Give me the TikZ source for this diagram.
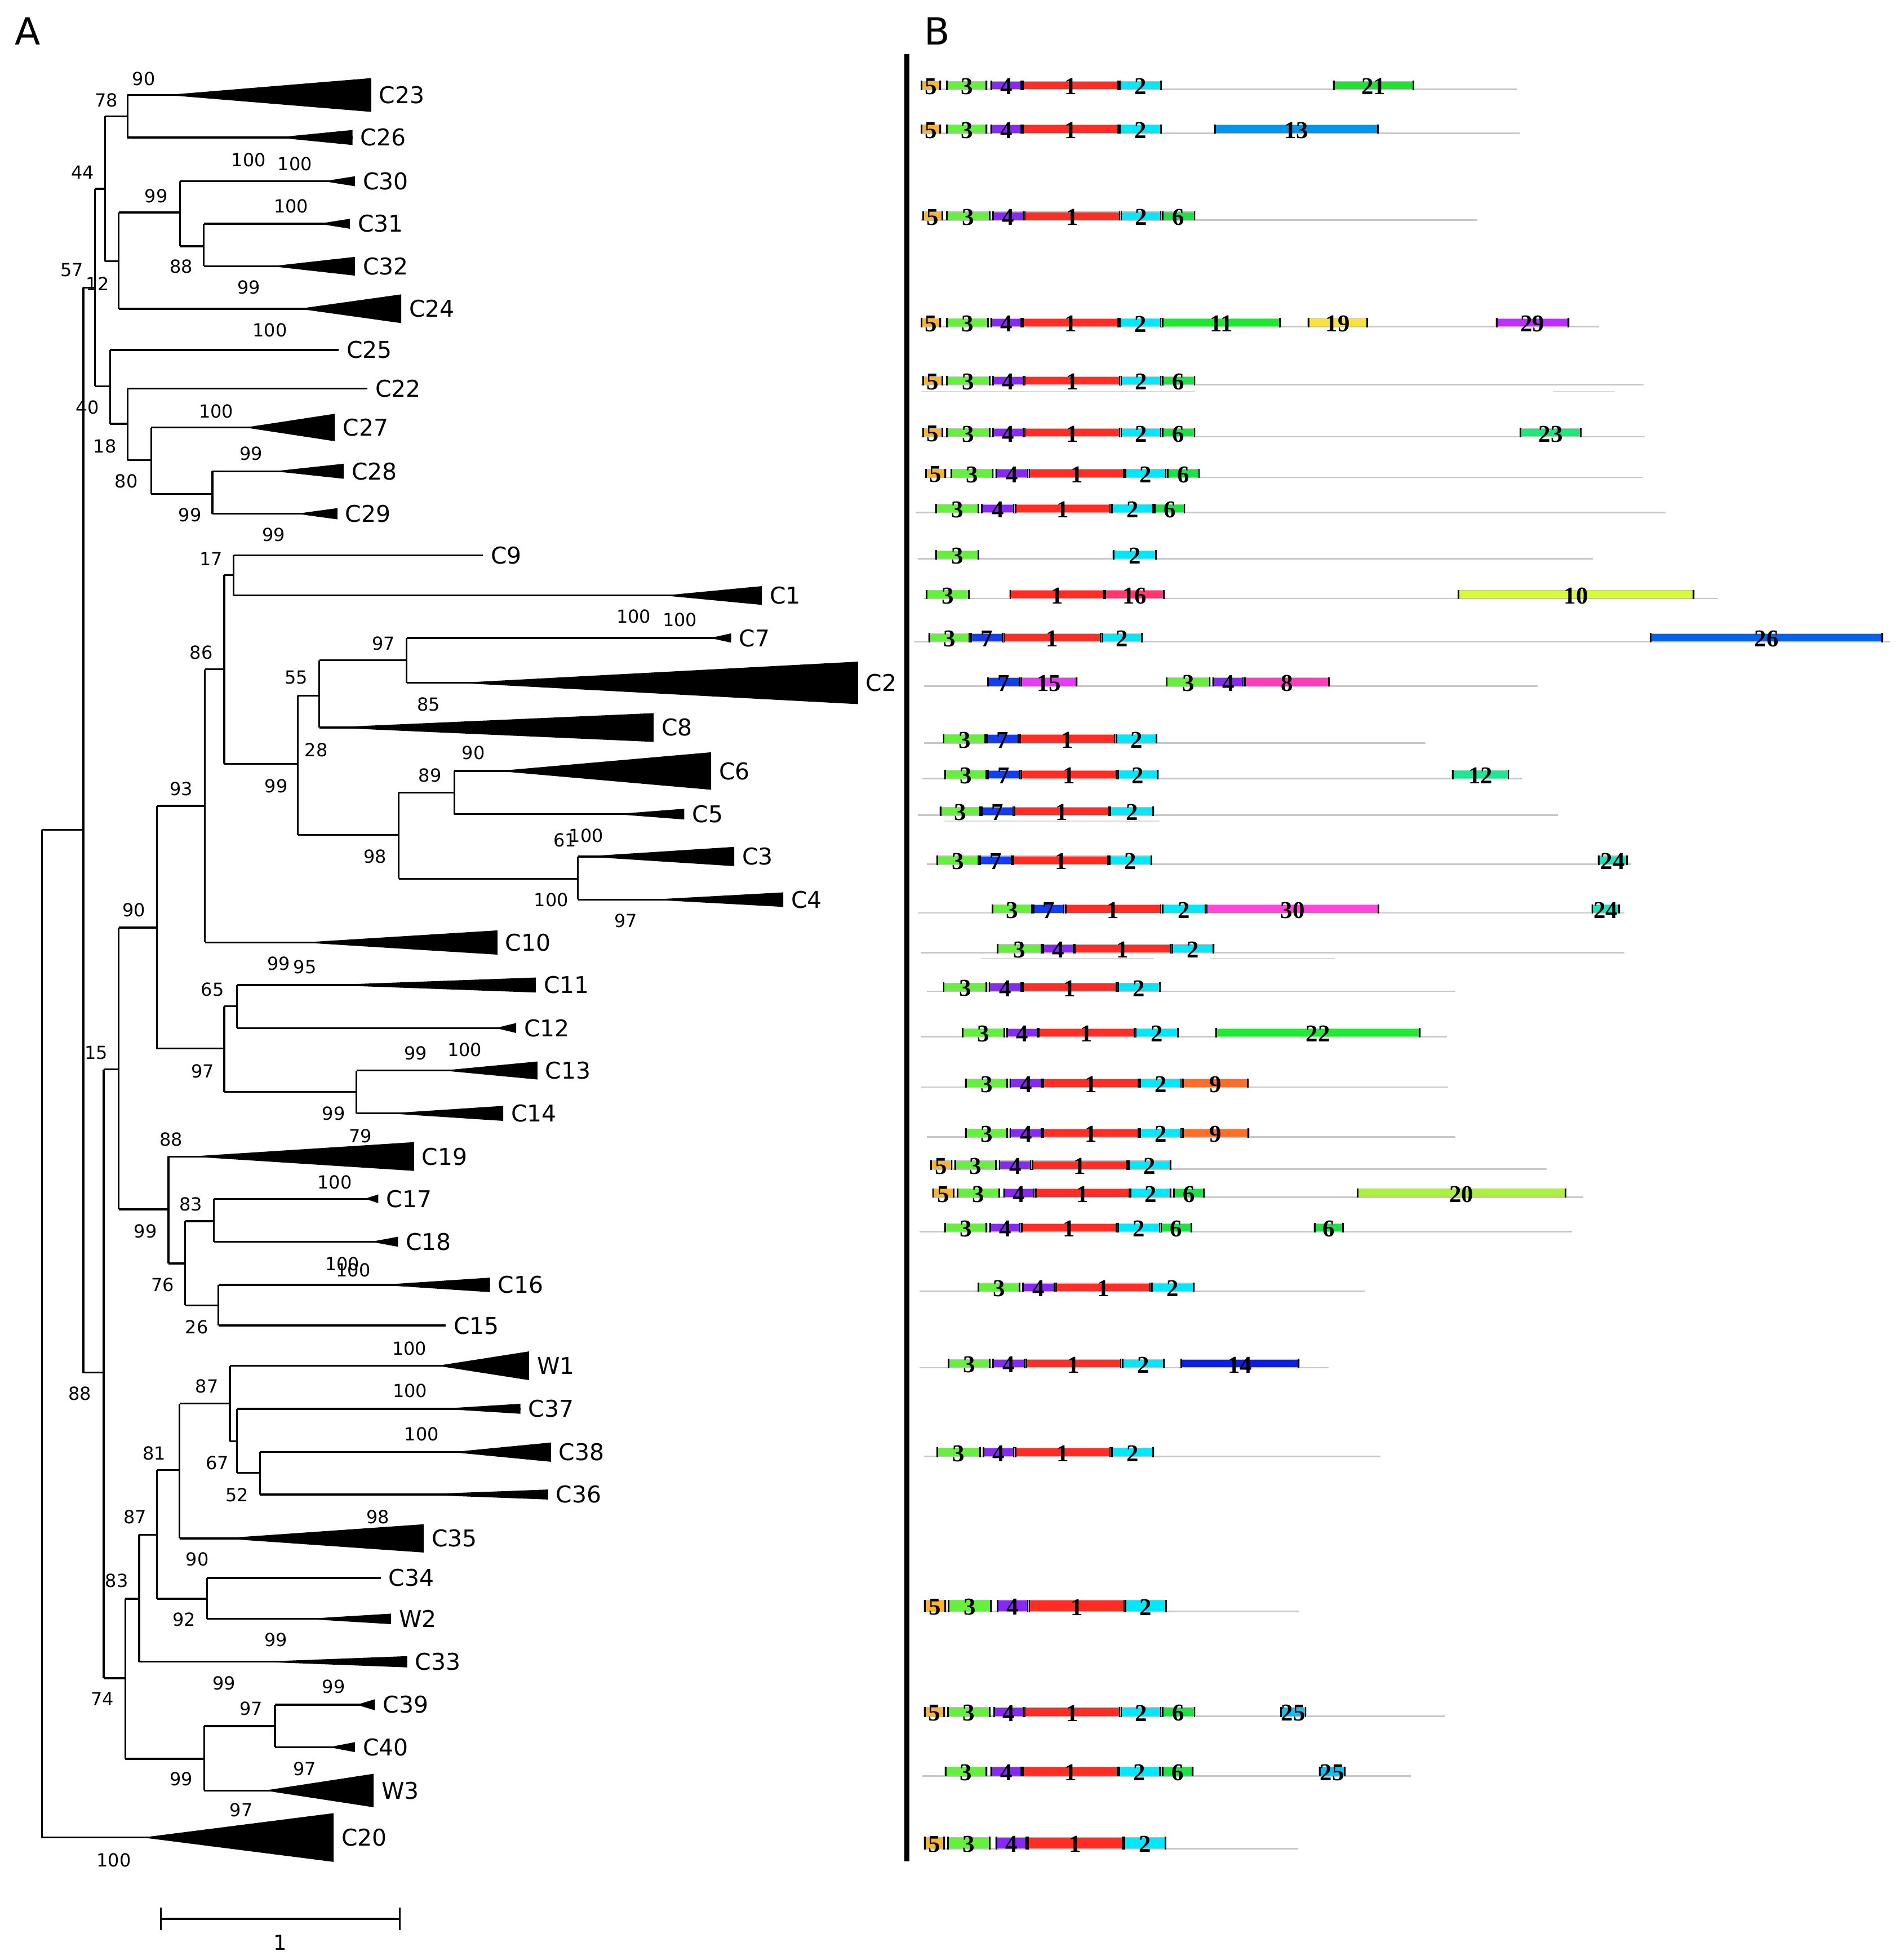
\documentclass[tikz,border=0pt]{standalone}
\usepackage{fontspec}
\setmainfont{DejaVu Sans}
\newfontfamily\genefont{Liberation Serif}
\usetikzlibrary{positioning}

% gene colours, named after the gene number
\definecolor{c1}{RGB}{255,45,35}
\definecolor{c2}{RGB}{0,232,250}
\definecolor{c3}{RGB}{100,240,60}
\definecolor{c4}{RGB}{135,40,245}
\definecolor{c5}{RGB}{250,180,50}
\definecolor{c6}{RGB}{30,225,70}
\definecolor{c7}{RGB}{20,60,240}
\definecolor{c8}{RGB}{255,60,190}
\definecolor{c9}{RGB}{255,110,40}
\definecolor{c10}{RGB}{215,250,60}
\definecolor{c11}{RGB}{30,230,50}
\definecolor{c12}{RGB}{30,230,150}
\definecolor{c13}{RGB}{0,150,235}
\definecolor{c14}{RGB}{10,30,230}
\definecolor{c15}{RGB}{230,60,245}
\definecolor{c16}{RGB}{255,55,110}
\definecolor{c19}{RGB}{250,225,60}
\definecolor{c20}{RGB}{170,240,60}
\definecolor{c21}{RGB}{30,225,50}
\definecolor{c22}{RGB}{30,235,50}
\definecolor{c23}{RGB}{30,230,120}
\definecolor{c24}{RGB}{30,225,190}
\definecolor{c25}{RGB}{20,190,240}
\definecolor{c26}{RGB}{0,100,240}
\definecolor{c29}{RGB}{185,50,250}
\definecolor{c30}{RGB}{255,70,220}

\tikzset{%
  % tree
  branch/.style = {draw, line width=0.85pt},
  leaf/.style = {anchor=west, inner sep=0pt, font=\fontsize{10.5}{12}\selectfont},
  boot/.style = {inner sep=0pt, font=\fontsize{8.2}{10}\selectfont},
  panel/.style = {inner sep=0pt, font=\fontsize{17}{20}\selectfont},
  % gene map
  backbone/.style = {draw=black!22, line width=0.7pt},
  faint/.style = {draw=black!14, line width=0.5pt},
  genebar/.style = {draw=black!25, line width=0.3pt},
  gnum/.style = {inner sep=0pt, font=\genefont\bfseries\fontsize{11}{11}\selectfont},
}

\newcounter{gn}
% vertical part of a clade: x, top y, bottom y
\newcommand{\stem}[3]{\draw[branch] (#1,#2) -- (#1,#3);}
% inner branch: from x, to x, at y
\newcommand{\twig}[3]{\draw[branch] (#1,#3) -- (#2,#3);}
% single leaf: from x, to x, at y, name
\newcommand{\tipline}[4]{\draw[branch] (#1,#3) -- (#2,#3);
  \node[leaf] (#4) at (#2+6,#3) {#4};}
% collapsed clade: node x, y, apex x, right x, half height, name
\newcommand{\clade}[6]{\draw[branch] (#1,#2) -- (#4,#2);
  \fill (#3,#2) -- (#4,#2-#5) -- (#4,#2+#5) -- cycle;
  \node[leaf] (#6) at (#4+6,#2) {#6};}
% gene row: [bar height] y, backbone from, backbone to, {start/end/gene,...}
\newcommand{\generow}[5][6.5]{%
  \draw[backbone] (#3,#2) -- (#4,#2);
  \foreach \a/\b/\t in {#5} {
    \fill[c\t, genebar] (\a,#2-#1) rectangle (\b,#2);
    \fill (\a,#2-#1-0.5) rectangle ++(1.3,#1+1);
    \fill (\b,#2-#1-0.5) rectangle ++(-1.3,#1+1);
    \stepcounter{gn}
    \node[gnum] (gene\arabic{gn}) at ({(\a+\b)/2},#2-#1/2+1) {\t};
  }}

\begin{document}
\begin{tikzpicture}[x=0.02cm, y=-0.02cm]
\useasboundingbox (0,0) rectangle (1517,1568);

\node[panel] (panelA) at (22,25) {A};
\node[panel] (panelB) at (750,25) {B};

% ---- A: tree ----
\stem{33.6}{663.7}{1470}
\twig{33.6}{66.7}{663.7}
\clade{33.6}{1470}{114}{267}{19.5}{C20}

\stem{66.7}{230}{1098}
\twig{66.7}{76}{230}
\twig{66.7}{83}{1098}

\stem{76}{151}{309}
\twig{76}{84}{151}
\twig{76}{88}{309}

\stem{84}{93}{209}
\twig{84}{102}{93}
\twig{84}{95}{209}

\stem{102}{76}{110}
\clade{102}{76}{133}{297}{13.5}{C23}
\clade{102}{110}{221}{282}{6}{C26}

\stem{95}{170}{247}
\twig{95}{144}{170}
\clade{95}{247}{239}{321}{11.5}{C24}

\stem{144}{145}{197}
\clade{144}{145}{259}{284}{4}{C30}
\twig{144}{163}{197}

\stem{163}{179}{213}
\clade{163}{179}{255}{280}{4}{C31}
\clade{163}{213}{217}{284}{7.5}{C32}

\stem{88}{280}{339}
\tipline{88}{271}{280}{C25}
\twig{88}{102}{339}

\stem{102}{311}{368}
\tipline{102}{294}{311}{C22}
\twig{102}{121}{368}

\stem{121}{342}{395}
\clade{121}{342}{196}{268}{11}{C27}
\twig{121}{170}{395}

\stem{170}{377}{411}
\clade{170}{377}{219}{275}{6}{C28}
\clade{170}{411}{237}{270}{4.5}{C29}

\stem{83}{855.5}{1342.6}
\twig{83}{95}{855.5}
\twig{83}{100.3}{1342.6}

\stem{95}{742}{967.5}
\twig{95}{125.6}{742}
\twig{95}{134.8}{967.5}

\stem{125.6}{644.7}{838.8}
\twig{125.6}{164}{644.7}
\twig{125.6}{179.4}{838.8}

\stem{164}{535.4}{754}
\twig{164}{179.4}{535.4}
\clade{164}{754}{241.5}{398}{9.7}{C10}

\stem{179.4}{460}{611}
\twig{179.4}{187}{460}
\twig{179.4}{238.3}{611}

\stem{187}{444.2}{476.4}
\tipline{187}{386.5}{444.2}{C9}
\clade{187}{476.4}{531}{609.6}{7.5}{C1}

\stem{238.3}{556.4}{668}
\twig{238.3}{255.4}{556.4}
\twig{238.3}{319}{668}

\stem{255.4}{528.2}{582}
\twig{255.4}{325.3}{528.2}
\clade{255.4}{582}{262}{523}{11.5}{C8}

\stem{325.3}{510.4}{546.3}
\clade{325.3}{510.4}{568}{585}{3.7}{C7}
\clade{325.3}{546.3}{365.8}{686.5}{17}{C2}

\stem{319}{634}{703}
\twig{319}{363.5}{634}
\twig{319}{462.4}{703}

\stem{363.5}{616.8}{651.3}
\clade{363.5}{616.8}{398}{569}{15}{C6}
\clade{363.5}{651.3}{492}{547.5}{4.3}{C5}

\stem{462.4}{685.2}{719.7}
\clade{462.4}{685.2}{467}{587.5}{7.7}{C3}
\clade{462.4}{719.7}{520}{626.7}{5.8}{C4}

\stem{179.4}{805}{873.6}
\twig{179.4}{189.6}{805}
\twig{179.4}{285.3}{873.6}

\stem{189.6}{788}{822.4}
\clade{189.6}{788}{262}{428.8}{6}{C11}
\clade{189.6}{822.4}{396.6}{413}{4}{C12}

\stem{285.3}{856.4}{890.7}
\clade{285.3}{856.4}{354}{430}{7.2}{C13}
\clade{285.3}{890.7}{310.6}{402.6}{6}{C14}

\stem{134.8}{925.2}{1010.7}
\clade{134.8}{925.2}{151.8}{331.3}{11.5}{C19}
\twig{134.8}{148.2}{1010.7}

\stem{148.2}{977}{1044.3}
\twig{148.2}{171.2}{977}
\twig{148.2}{174.8}{1044.3}

\stem{171.2}{959}{993.4}
\clade{171.2}{959}{292}{302.7}{3.5}{C17}
\clade{171.2}{993.4}{296.8}{318.4}{4}{C18}

\stem{174.8}{1027.9}{1060.4}
\clade{174.8}{1027.9}{303.7}{392}{5.8}{C16}
\tipline{174.8}{356.6}{1060.4}{C15}

\stem{100.3}{1279}{1407}
\twig{100.3}{111.3}{1279}
\twig{100.3}{163.3}{1407}

\stem{111.3}{1227.8}{1329.4}
\twig{111.3}{125.6}{1227.8}
\clade{111.3}{1329.4}{207}{325.8}{4.5}{C33}

\stem{125.6}{1176}{1279}
\twig{125.6}{143.6}{1176}
\twig{125.6}{165.6}{1279}

\stem{143.6}{1122.8}{1230.7}
\twig{143.6}{184}{1122.8}
\clade{143.6}{1230.7}{177}{339}{11.3}{C35}

\stem{184}{1092.6}{1153}
\clade{184}{1092.6}{349.7}{423.3}{11.5}{W1}
\twig{184}{189.6}{1153}

\stem{189.6}{1127}{1178.3}
\clade{189.6}{1127}{352}{416.4}{4}{C37}
\twig{189.6}{208}{1178.3}

\stem{208}{1161.7}{1195.6}
\clade{208}{1161.7}{361.2}{440.8}{7.7}{C38}
\clade{208}{1195.6}{331.3}{438.5}{4}{C36}

\stem{165.6}{1262.3}{1295.1}
\tipline{165.6}{304.6}{1262.3}{C34}
\clade{165.6}{1295.1}{243.9}{312.9}{4.2}{W2}

\stem{163.3}{1380.9}{1432.4}
\twig{163.3}{220}{1380.9}
\clade{163.3}{1432.4}{211.6}{299}{13.4}{W3}

\stem{220}{1363.8}{1397.7}
\clade{220}{1363.8}{285.3}{300}{4.4}{C39}
\clade{220}{1397.7}{263.2}{284}{4}{C40}

% bootstrap values
\foreach \x/\y/\v [count=\i] in {115/63/90, 85/80/78, 66/138/44, 199/128/100,
  236/131/100, 125/157/99, 233/165/100, 145/213/88, 57.5/216/57, 78/227/12,
  199/230/99, 216/264/100, 70/326/40, 173/329/100, 84/357/18, 201/363/99,
  101/385/80, 152/412/99, 219/428/99, 169/447/17, 507/493/100, 544/496/100,
  307/515/97, 161/522/86, 237/542/55, 343/563.5/85, 253/600/28, 378.7/602.4/90,
  344/620.5/89, 221/629/99, 145/631/93, 452/672/61, 469/668.5/100, 300/685/98,
  441/719.7/100, 107/728/90, 500.6/736.7/97, 223/770.7/99, 244/773.5/95,
  170/791.6/65, 332.7/842.5/99, 371.8/839.7/100, 77/842/15, 162/857/97,
  266.9/890.7/99, 288.5/908.6/79, 137/911.4/88, 267.8/946/100, 152.8/963.2/83,
  116.4/984.8/99, 274/1011/100, 282.6/1016/100, 130/1028/76, 157.4/1061.6/26,
  327.6/1078.8/100, 165.6/1109/87, 64/1115/88, 328/1112.8/100, 337.3/1147.3/100,
  123.3/1162.5/81, 174/1170.3/67, 189.6/1196.2/52, 108/1213.4/87, 302.3/1213.4/98,
  157.8/1247.4/90, 93.4/1264.6/83, 147.2/1295.4/92, 220.8/1312/99, 179.4/1346.6/99,
  266.9/1349.3/99, 82/1359/74, 201/1366.8/97, 243.9/1414.9/97, 145/1423.4/99,
  193/1448/97, 91/1488/100}
  \node[boot] (bs\i) at (\x,\y) {\v};

% scale bar
\draw[branch, line width=1.2pt] (128.8,1535) -- (319.8,1535);
\draw[branch] (128.8,1526) -- (128.8,1544) (319.8,1526) -- (319.8,1544);
\node[boot, font=\fontsize{9.5}{11}\selectfont] (scalelabel) at (224,1554) {1};

% ---- B: gene maps ----
\draw[line width=2.2pt] (725.6,43.4) -- (725.6,1489);

\generow{71.5}{737}{1213.6}{736.7/753/5, 757/790/3, 792.5/817.9/4, 817.9/895.5/1, 895.5/929.5/2, 1066.5/1131.4/21}
\generow{106.5}{737}{1216}{736.7/753/5, 757/790/3, 792.5/817.9/4, 817.9/895.5/1, 895.5/929.5/2, 971.6/1103/13}
\generow{176}{737}{1182}{738.2/754.5/5, 757/792.5/3, 794/819.4/4, 819.4/896.5/1, 896.5/929.5/2, 929.5/956.4/6}
\generow{261.4}{737}{1279.5}{736.7/753/5, 757/791/3, 792.5/817.9/4, 817.9/895.5/1, 895.5/929.5/2, 929.5/1024.9/11, 1046.2/1094.4/19, 1196.8/1255.7/29}
\draw[faint] (737,313.5) -- (956,313.5) (1242.5,313.5) -- (1292.2,313.5);
\generow{307.8}{737}{1315}{738.2/754.5/5, 757/792.5/3, 794/819.4/4, 819.4/896.5/1, 896.5/929.5/2, 929.5/956.4/6}
\generow{349.4}{737}{1316}{738.2/754.5/5, 757/792.5/3, 794/819.4/4, 819.4/896.5/1, 896.5/929.5/2, 929.5/956.4/6, 1216.1/1265.3/23}
\generow{381.9}{740}{1314}{740.3/757/5, 760.6/795/3, 796.6/823/4, 823/900/1, 900/933.5/2, 933.5/960/6}
\generow{410}{732.7}{1332.8}{748.4/783.4/3, 785/811.8/4, 811.8/888.9/1, 888.9/923.4/2, 923.4/948.3/6}
\generow{447}{734.2}{1274.5}{748.4/783.4/3, 890.4/925.4/2}
\generow{478.8}{739.3}{1374.4}{740.8/775.8/3, 807.7/883.8/1, 883.8/932/16, 1166.4/1355.6/10}
\generow{513.3}{731.6}{1512}{742.8/776.3/3, 776.3/802.7/7, 802.7/881.3/1, 881.3/914.3/2, 1320.1/1506.8/26}
\generow{548.8}{739.3}{1230.3}{790/816.4/7, 816.4/862/15, 933/968.6/3, 970.1/995.4/4, 995.4/1063.9/8}
\generow{594.3}{739.3}{1140.5}{754.5/789/3, 789/815.4/7, 815.4/892.5/1, 892.5/925.9/2}
\generow{622.8}{738}{1217.6}{755.5/790/3, 790/816.4/7, 816.4/894/1, 894/927/2, 1161.8/1207.5/12}
\draw[faint] (755.5,657) -- (928,657);
\generow{652.2}{734.2}{1246.6}{752/785/3, 785/811.3/7, 811.3/887.9/1, 887.9/923.4/2}
\generow{691.3}{741.8}{1305}{749.4/783.4/3, 783.4/810.3/7, 810.3/887.4/1, 887.4/921.9/2, 1278.5/1302.4/24}
\generow{730.4}{734.2}{1299.8}{793.5/826.5/3, 826.5/851.9/7, 851.9/929.5/1, 929.5/965/2, 965/1103.5/30, 1273.4/1296.3/24}
\draw[faint] (785,767) -- (923.4,767) (968.6,767) -- (1068,767);
\generow{762.1}{736.7}{1299.8}{797.6/834.1/3, 834.1/859.5/4, 859.5/937.1/1, 937.1/971.6/2}
\generow{793}{741.8}{1164.4}{754.5/790/3, 791/817.9/4, 817.9/894/1, 894/928.5/2}
\generow{829.4}{736.7}{1157.8}{769.7/804.2/3, 805.2/830.6/4, 830.6/908.2/1, 908.2/943.2/2, 972.6/1136.5/22}
\generow{869.7}{736.7}{1158.8}{772.2/806.7/3, 807.7/834.1/4, 834.1/911.7/1, 911.7/945.7/2, 945.7/999/9}
\generow{909.6}{741.8}{1164.4}{772.2/806.7/3, 807.7/834.1/4, 834.1/911.7/1, 911.7/945.7/2, 945.7/999.5/9}
\generow{935.2}{744.3}{1237.4}{744.3/762.1/5, 763.6/797.6/3, 799.1/825.5/4, 825.5/902.6/1, 902.6/937.1/2}
\generow{957.7}{745.9}{1266.8}{745.9/763.6/5, 765.6/800.1/3, 802.7/828/4, 828/904.1/1, 904.1/937.1/2, 938.6/964/6, 1085.7/1253.1/20}
\generow{985.3}{735.7}{1257.7}{755.5/790/3, 791.5/816.9/4, 816.9/894/1, 894/928.5/2, 928.5/953.8/6, 1051.2/1075.1/6}
\generow{1033}{735.7}{1091.8}{782.4/816.4/3, 817.9/844.3/4, 844.3/920.9/1, 920.9/955.9/2}
\generow{1094.1}{735.7}{1062.9}{758.5/792.5/3, 794/820.4/4, 820.4/897.5/1, 897.5/932/2, 944.7/1039.6/14}
\generow[7]{1165.3}{739.3}{1104.5}{749.4/784.9/3, 786.4/811.8/4, 811.8/888.9/1, 888.9/923.4/2}
\generow[9]{1289.2}{739.3}{1039.6}{739.3/757/5, 758.5/793.5/3, 797.6/823/4, 823/900.1/1, 900.1/933.5/2}
\generow[7]{1373}{739.3}{1156.3}{739.3/756/5, 758/792.5/3, 795/819.4/4, 819.4/896.5/1, 896.5/929.5/2, 929.5/956.4/6, 1024.4/1045.2/25}
\generow[7]{1420.7}{738.2}{1128.9}{756/790/3, 792.5/817.9/4, 817.9/895/1, 895/928.5/2, 929.5/954.9/6, 1055.3/1076.6/25}
\generow[9]{1478.9}{739.3}{1038.6}{739.3/756/5, 758/792.5/3, 796.6/822/4, 822/899/1, 899/933/2}

\end{tikzpicture}
\end{document}
